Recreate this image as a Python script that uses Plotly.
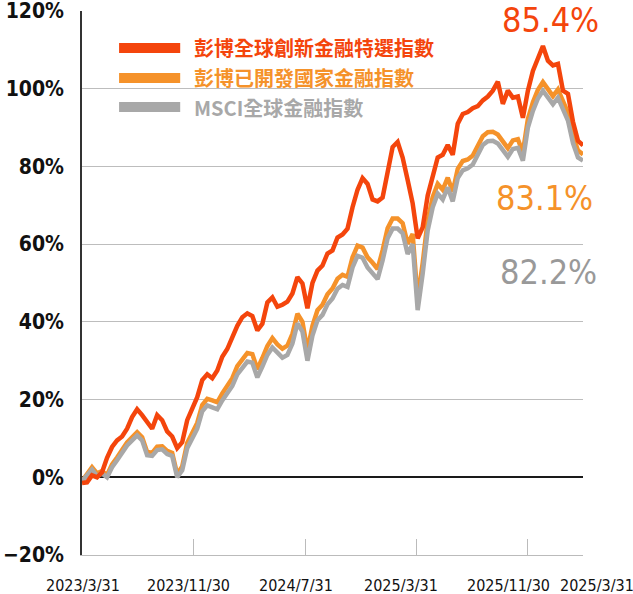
import pandas as pd
import plotly.graph_objects as go


##########
# Inputs #
##########

START_DATE = "2023-03-31"
END_DATE = "2026-03-31"

INNOVATION_FIN = [
    -1.5, -1.3, 0.5, 0.0, 1.3, 5.0, 7.8, 9.5, 10.5, 12.5,
    15.5, 17.5, 16.0, 14.0, 12.5, 16.0, 14.7, 11.8, 10.5, 7.5,
    9.0, 14.7, 18.0, 20.6, 25.0, 26.5, 25.5, 27.5, 31.0, 33.0,
    36.0, 39.0, 41.2, 42.2, 41.5, 37.8, 39.5, 45.0, 46.3, 43.9,
    44.4, 45.2, 47.3, 51.5, 49.9, 43.5, 50.0, 53.2, 54.5, 57.6,
    58.4, 61.7, 62.5, 64.0, 69.5, 74.0, 77.0, 75.5, 71.5, 71.0,
    72.0, 78.9, 85.0, 86.3, 82.3, 76.5, 70.5, 61.5, 64.3, 72.5,
    77.5, 82.3, 83.0, 85.5, 83.0, 91.0, 93.5, 94.0, 95.0, 95.5,
    97.0, 98.0, 99.5, 101.8, 96.1, 99.5, 97.7, 98.0, 92.5, 99.5,
    104.6, 107.5, 111.0, 107.2, 106.0, 106.4, 99.5, 98.7, 91.5, 86.6,
    85.4,
]

DEVELOPED_FIN = [
    -1.0, 1.0, 2.6, 1.0, 1.6, 0.6, 3.3, 5.1, 7.0, 9.0,
    10.3, 11.6, 10.3, 6.5, 6.3, 7.9, 8.0, 6.8, 6.3, 0.8,
    2.8, 8.8, 11.4, 14.0, 18.6, 20.2, 19.8, 19.3, 21.6, 23.4,
    25.5, 28.6, 30.4, 32.0, 31.7, 27.8, 30.7, 33.8, 35.8, 34.2,
    33.1, 33.9, 36.9, 42.1, 40.0, 32.6, 39.0, 43.0, 44.4, 47.1,
    48.6, 51.1, 52.1, 51.6, 56.6, 59.6, 59.1, 56.6, 55.2, 53.6,
    58.4, 64.1, 66.6, 66.6, 65.4, 60.1, 62.6, 45.8, 55.1, 66.1,
    72.1, 75.5, 74.0, 77.1, 73.5, 79.4, 81.4, 81.8, 82.8, 85.1,
    87.8, 88.8, 88.9, 88.2, 86.2, 84.7, 86.7, 87.0, 83.6, 92.2,
    96.5, 99.7, 101.7, 99.9, 98.1, 99.8, 96.6, 93.8, 87.9, 84.1,
    83.1,
]

MSCI_WORLD_FIN = [
    -1.0, 0.5, 2.0, 0.3, 1.0, 0.0, 2.6, 4.4, 6.2, 8.2,
    9.5, 10.8, 9.5, 5.7, 5.5, 7.0, 7.2, 6.0, 5.5, 0.0,
    1.8, 7.5, 10.0, 12.5, 17.0, 18.5, 18.0, 17.5, 19.8, 21.5,
    23.5, 26.5, 28.3, 29.8, 29.5, 25.7, 28.5, 31.5, 33.4, 31.9,
    30.8, 31.5, 34.4, 39.6, 37.5, 30.0, 36.5, 40.4, 41.8, 44.5,
    46.0, 48.5, 49.5, 49.0, 54.0, 57.0, 56.5, 54.0, 52.6, 51.0,
    55.8, 61.5, 64.0, 64.0, 62.8, 57.5, 60.0, 43.0, 52.4, 63.5,
    69.5, 73.0, 71.5, 74.6, 71.0, 77.0, 79.0, 79.5, 80.5, 82.8,
    85.5, 86.5, 86.6, 85.9, 84.0, 82.5, 84.5, 84.8, 81.5, 90.0,
    94.3, 97.5, 99.5, 97.7, 96.0, 97.7, 94.5, 91.8, 86.0, 82.3,
    81.5,
]

SERIES_NAMES = ["彭博全球創新金融特選指數", "彭博已開發國家金融指數", "MSCI全球金融指數"]
FINAL_LABELS = ["85.4%", "83.1%", "82.2%"]

TICK_DATES = ["2023-03-31", "2023-11-30", "2024-07-31", "2025-03-31", "2025-11-30", "2026-03-31"]
TICK_TEXT = ["2023/3/31", "2023/11/30", "2024/7/31", "2025/3/31", "2025/11/30", "2025/3/31"]

RED = "#F4450C"
ORANGE = "#F5922A"
GREY = "#A8A8A8"
GREY_TEXT = "#999999"

NUM_FONT = "DejaVu Sans Condensed"
CJK_FONT = "Noto Sans CJK TC"


#############
# Plot data #
#############

dates = pd.date_range(START_DATE, END_DATE, periods=len(INNOVATION_FIN))

figure = go.Figure()

# Orange first, grey over it, red on top
for values, color in [(DEVELOPED_FIN, ORANGE), (MSCI_WORLD_FIN, GREY), (INNOVATION_FIN, RED)]:
    figure.add_trace(go.Scatter(
        x=dates,
        y=values,
        mode="lines",
        line=dict(color=color, width=4.5),
        showlegend=False,
        hoverinfo="skip",
    ))

# Hand-made legend: thick swatch + coloured label
legend_rows = [0.932, 0.877, 0.8235]
legend_colors = [RED, ORANGE, GREY]
for name, color, y in zip(SERIES_NAMES, legend_colors, legend_rows):
    figure.add_shape(
        type="line", xref="paper", yref="paper",
        x0=0.074, x1=0.196, y0=y, y1=y,
        line=dict(color=color, width=10),
    )
    figure.add_annotation(
        text=name, xref="paper", yref="paper",
        x=0.2196, y=y, xanchor="left", yanchor="middle",
        showarrow=False,
        font=dict(family=CJK_FONT, size=20, color=color, weight="bold"),
    )

# Final return labels on the right
label_spots = [(0.936, 0.9835), (0.924, 0.656), (0.932, 0.520)]
label_colors = [RED, ORANGE, GREY_TEXT]
for text, color, (x, y) in zip(FINAL_LABELS, label_colors, label_spots):
    figure.add_annotation(
        text=text, xref="paper", yref="paper",
        x=x, y=y, xanchor="center", yanchor="middle",
        showarrow=False, borderpad=0,
        font=dict(family=NUM_FONT, size=34, color=color),
    )

# Date labels under the axis (placed as in the reference, not exactly under the ticks)
date_label_x = [0.002, 0.2116, 0.4271, 0.6367, 0.8503, 1.028]
for text, x in zip(TICK_TEXT, date_label_x):
    figure.add_annotation(
        text=text, xref="paper", yref="paper",
        x=x, y=-0.056, xanchor="center", yanchor="middle",
        showarrow=False, borderpad=0,
        font=dict(family=NUM_FONT, size=16, color="#111111"),
    )

figure.update_layout(
    width=633,
    height=594,
    margin=dict(l=82, r=50, t=11, b=39),
    plot_bgcolor="white",
    paper_bgcolor="white",
    showlegend=False,
)

figure.update_xaxes(
    type="date",
    range=[START_DATE, END_DATE],
    tickvals=TICK_DATES,
    showticklabels=False,
    ticks="inside",
    ticklen=16,
    tickwidth=1,
    tickcolor="#BBBBBB",
    showgrid=False,
    showline=True,
    linecolor="#BBBBBB",
    linewidth=1,
    automargin=False,
)

figure.update_yaxes(
    range=[-20, 120],
    dtick=20,
    ticksuffix="%",
    showgrid=True,
    gridcolor="#BDBDBD",
    gridwidth=1,
    zeroline=True,
    zerolinecolor="#1A1A1A",
    zerolinewidth=2,
    showline=True,
    linecolor="#333333",
    linewidth=1.5,
    ticklabelstandoff=12,
    ticklabeloverflow="allow",
    automargin=False,
    tickfont=dict(family=NUM_FONT, size=21, color="#111111", weight="bold"),
)

# Drop the browser's default body margin so the figure sits at the page corner
figure.write_html(
    "out.html",
    config={"displayModeBar": False},
    post_script="document.body.style.margin = '0';",
)
